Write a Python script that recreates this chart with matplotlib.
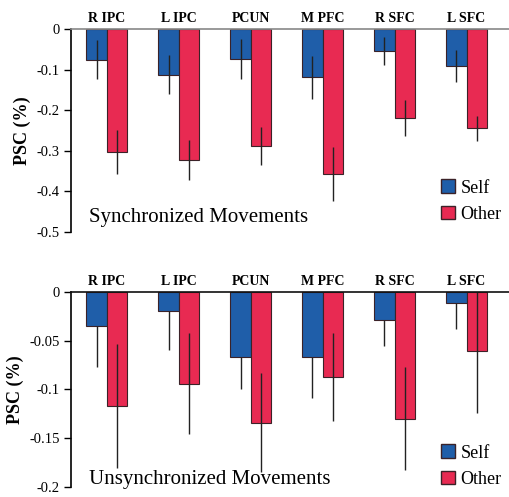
import numpy as np
import matplotlib
matplotlib.use("Agg")
import matplotlib.pyplot as plt
from matplotlib.patches import Patch

regions = ["R IPC", "L IPC", "PCUN", "M PFC", "R SFC", "L SFC"]

sync_self = [-0.076, -0.113, -0.074, -0.119, -0.054, -0.092]
sync_self_err = [0.048, 0.048, 0.050, 0.053, 0.035, 0.039]
sync_other = [-0.303, -0.323, -0.288, -0.357, -0.220, -0.245]
sync_other_err = [0.054, 0.050, 0.047, 0.066, 0.044, 0.031]

unsync_self = [-0.035, -0.019, -0.067, -0.067, -0.029, -0.011]
unsync_self_err = [0.042, 0.040, 0.032, 0.042, 0.026, 0.027]
unsync_other = [-0.117, -0.094, -0.134, -0.087, -0.130, -0.061]
unsync_other_err = [0.064, 0.052, 0.051, 0.045, 0.053, 0.063]

BLUE = "#1f5ea9"
RED = "#e82a52"
EDGE = "#3b2228"

plt.rcParams["font.family"] = ["Liberation Serif", "DejaVu Serif"]

fig = plt.figure(figsize=(5.09, 4.97), dpi=100)
ax1 = fig.add_axes([0.1395, 0.5332, 0.8605, 0.4085])
ax2 = fig.add_axes([0.1395, 0.0201, 0.8605, 0.3924])

x = np.arange(len(regions))
w = 0.285


def panel(ax, self_v, self_e, other_v, other_e, ylim, ticks, ticklabels,
          note, note_y, leg_y, self_one_sided, line_color):
    if self_one_sided:
        s_err = [self_e, [0] * len(self_e)]
    else:
        s_err = self_e
    ax.bar(x - w / 2, self_v, w, color=BLUE, edgecolor=EDGE, linewidth=0.8,
           yerr=s_err, error_kw=dict(ecolor="#222222", elinewidth=1.0, capsize=0))
    ax.bar(x + w / 2, other_v, w, color=RED, edgecolor=EDGE, linewidth=0.8,
           yerr=other_e, error_kw=dict(ecolor="#222222", elinewidth=1.0, capsize=0))
    ax.set_xlim(-0.5, 5.59)
    ax.set_ylim(*ylim)
    ax.set_yticks(ticks)
    ax.set_yticklabels(ticklabels, fontsize=10.5)
    ax.tick_params(axis="y", direction="out", length=5, width=1, pad=3)
    ax.set_xticks([])
    for s in ["bottom", "right"]:
        ax.spines[s].set_visible(False)
    ax.spines["left"].set_linewidth(1.2)
    ax.spines["top"].set_color(line_color)
    ax.spines["top"].set_linewidth(1.2)
    for i, r in enumerate(regions):
        ax.text(x[i], 1.02, r, transform=ax.get_xaxis_transform(),
                ha="center", va="bottom", fontsize=10, fontweight="bold")
    ax.set_ylabel("PSC (%)", fontsize=13, fontweight="bold", labelpad=4)
    ax.text(0.04, note_y, note, transform=ax.transAxes, fontsize=15,
            ha="left", va="center")
    handles = [Patch(facecolor=BLUE, edgecolor=EDGE, label="Self"),
               Patch(facecolor=RED, edgecolor=EDGE, label="Other")]
    ax.legend(handles=handles, loc="lower right", bbox_to_anchor=(1.02, leg_y),
              frameon=False, fontsize=13, handlelength=0.8, handleheight=0.8,
              handletextpad=0.3, labelspacing=0.5)


panel(ax1, sync_self, sync_self_err, sync_other, sync_other_err,
      (-0.5, 0), [0, -0.1, -0.2, -0.3, -0.4, -0.5],
      ["0", "-0.1", "-0.2", "-0.3", "-0.4", "-0.5"],
      "Synchronized Movements", 0.07, -0.035, False, "#888888")
panel(ax2, unsync_self, unsync_self_err, unsync_other, unsync_other_err,
      (-0.2, 0), [0, -0.05, -0.1, -0.15, -0.2],
      ["0", "-0.05", "-0.1", "-0.15", "-0.2"],
      "Unsynchronized Movements", 0.036, -0.087, True, "#111111")

fig.savefig("out.png", dpi=100)
